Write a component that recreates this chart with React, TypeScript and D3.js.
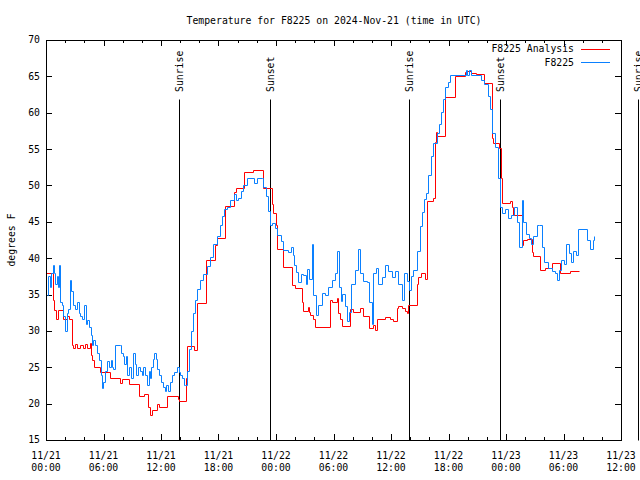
import React from "react";
import * as d3 from "d3";

const TITLE = "Temperature for F8225 on 2024-Nov-21 (time in UTC)";
const Y_LABEL = "degrees F";
const START_UTC = Date.UTC(2024, 10, 21, 0, 0);
const END_HOURS = 60;
const Y_TICKS = [15, 20, 25, 30, 35, 40, 45, 50, 55, 60, 65, 70];

// hours since 2024-11-21 00:00 UTC
const obsHours = [0.07,0.2,0.42,0.56,0.7,0.83,0.97,1.11,1.25,1.36,1.46,1.67,1.8,1.95,2.16,2.33,2.5,2.64,2.78,3.0,3.2,3.4,3.55,3.76,3.97,4.14,4.31,4.5,4.66,4.77,4.94,5.15,5.36,5.53,5.7,5.84,5.98,6.16,6.33,6.54,6.75,6.89,7.03,7.23,7.72,7.86,8.0,8.14,8.35,8.49,8.7,8.83,9.04,9.25,9.39,9.6,9.8,10.0,10.16,10.37,10.5,10.7,10.85,11.0,11.13,11.27,11.48,11.62,11.83,12.03,12.17,12.38,12.52,12.73,12.94,13.15,13.36,13.63,13.84,13.98,14.19,14.4,14.54,14.68,14.89,15.1,15.3,15.58,15.8,16.07,16.42,16.77,17.11,17.46,17.81,18.16,18.33,18.58,18.85,19.2,19.62,19.83,20.07,20.31,20.59,20.94,21.7,21.98,22.5,22.68,22.92,23.13,23.37,23.58,23.86,24.14,24.49,24.77,25.29,25.53,25.74,25.88,26.09,26.34,26.58,26.86,27.09,27.27,27.48,27.72,27.9,28.14,28.42,28.76,29.1,29.46,29.81,30.16,30.4,30.58,30.75,30.92,31.16,31.37,31.58,31.86,32.21,32.56,32.77,33.11,33.46,33.74,33.98,34.16,34.43,34.68,35.03,35.38,35.72,36.07,36.42,36.77,37.11,37.39,37.64,37.88,38.05,38.33,38.68,39.02,39.27,39.44,39.62,39.9,40.17,40.42,40.77,41.01,41.18,41.39,41.64,41.91,42.16,43.79,43.97,44.14,44.31,45.36,45.71,46.12,46.37,46.57,46.85,47.13,47.37,47.58,47.93,48.24,48.56,48.84,49.12,49.39,49.64,49.81,50.09,50.37,50.58,50.85,51.2,51.48,51.72,52.0,52.42,52.77,53.12,53.36,53.57,53.78,54.02,54.26,54.54,54.75,55.02,55.3,55.55,56.49,56.77,57.12,57.22];
const obsTemps = [35,37.5,36,38,39,38,36.5,37.5,36,39,34,33.5,32,30,32.5,33,37,35.5,33.5,33,34,32.5,32,31.6,33.5,31,31.5,30.5,29.5,28,28.8,28,27,26,24,22.2,23,24.5,25.8,25,26,25,24.8,28,28,27,26.5,25.5,26.5,24,25,23.5,27,25.5,24,25,24.5,24,25,24,22.5,24.5,23.5,25,26.2,27,26.2,24.8,24,23,22.3,21.7,22.5,21.8,23,24,24.4,25,24.3,24,23.5,22.5,22.5,24.5,27.5,30,32.5,34.3,35.8,37,37.8,38.9,40.2,42,43,44.5,45.8,46.8,47,48,48.8,48,48.3,49.2,50.1,51,50.3,51,51,49.8,48.5,46.5,44.5,44.8,44.2,43.2,42.3,41.1,40.9,41.5,40.5,39.1,38.1,36.7,37.8,37.7,36.5,38.5,37.2,42,35,32.2,33.5,35.2,35,36.1,37,38,41,36,34.1,35.1,33.4,31.3,32.6,36.5,38.4,41.3,38,36.8,36.7,34,31,38,38.6,36.5,37.4,39,38.2,37.4,38.3,36.4,34.2,38,36.8,35.6,37.5,38.4,41,44.4,46.4,48.2,48.9,51.4,54,55.9,57.2,58.5,60.1,61.9,63.6,64.2,65.2,65.9,65.2,65.9,65.2,64.5,64,62.3,60.5,57.2,55.3,51,47.1,46.2,46.8,45.5,46,47,45,41.5,48,45,43.3,42.8,42,43,44.5,44.5,41.5,39.5,38.6,38.3,38,37,38.4,39.7,39.2,42,40.7,39.5,41,40.4,44,42.5,41.3,42.5,43];

const anaHours = [0,0.7,0.83,1.04,1.29,1.74,2.16,2.37,2.68,2.85,3.03,3.27,3.55,3.83,4.07,4.31,4.59,4.7,4.83,5.0,5.63,6.68,7.72,7.9,8.7,9.74,10.23,10.68,10.85,11.1,11.62,11.79,12.66,13.74,13.91,14.61,14.75,15.44,15.72,16.66,17.64,17.81,18.68,19.65,19.79,20.66,21.64,22.68,23.55,23.72,24.0,24.14,24.7,25.63,25.98,26.68,26.85,27.37,27.48,27.55,27.83,28.07,29.63,29.81,30.33,30.5,30.68,30.85,31.72,32.07,32.77,33.04,33.74,34.16,34.33,34.5,35.37,35.9,36.18,36.66,36.77,37.11,37.47,37.64,37.81,38.68,38.85,39.1,39.55,39.72,40.35,40.59,40.7,40.84,41.6,42.71,43.72,43.9,44.31,44.87,45.7,46.54,46.68,47.27,47.5,47.62,48.42,48.59,48.77,49.64,49.81,50.16,50.68,50.85,51.55,52.07,52.77,53.64,54.69,55.66];
const anaTemps = [37.9,34.25,32.9,31.6,32.9,31.6,32.0,31.7,28.0,27.6,28.2,27.6,28.0,27.6,28.2,27.7,28.3,26.7,26.0,25.0,24.3,23.5,22.8,23.35,22.7,21.05,21.3,19.5,18.45,19.1,20.0,19.6,21.05,20.7,20.4,23.5,27.9,27.4,33.9,39.8,41.8,42.8,47.2,49.1,49.7,51.8,52.1,49.6,47.5,46.2,44.6,41.2,38.8,36.3,35.9,34.0,32.7,33.3,32.6,32.2,31.7,30.6,34.25,34.0,34.5,32.5,31.7,30.7,33.0,32.6,33.2,32.0,30.35,30.8,30.1,31.6,31.9,31.6,31.3,33.2,33.4,33.1,32.8,32.5,33.6,36.5,37.4,38.0,37.1,47.8,48.3,56.0,57.4,56.8,62.1,65.1,65.55,65.7,65.5,65.3,64.1,56.5,55.8,55.2,51.0,47.6,47.9,47.0,45.9,41.8,42.5,42.6,40.9,40.3,38.4,38.6,39.3,37.9,38.3,38.3];

const sunHours = [13.88, 23.37, 37.88, 47.37, 61.77];
const sunLabels = ["Sunrise", "Sunset", "Sunrise", "Sunset", "Sunrise"];
const SUN_LINE_TOP = 61.9;

const seriesNames = ["F8225 Analysis", "F8225"];
const seriesColors = ["#ff0000", "#0a80ff"];

const W = 640, H = 480;
const L = 46, R = 621, T = 40, B = 440;
const FONT = "'DejaVu Sans Mono', 'Liberation Mono', monospace";
const FS = 9.8;

const toDate = (h: number) => new Date(START_UTC + h * 3600e3);

export default function App() {
  const x = d3.scaleUtc().domain([toDate(0), toDate(END_HOURS)]).range([L, R]);
  const y = d3.scaleLinear().domain([15, 70]).range([B, T]);
  const px = (d: Date) => Math.round(x(d)) + 0.5;
  const py = (v: number) => Math.round(y(v)) + 0.5;

  const line = d3
    .line<[number, number]>()
    .x((d) => px(toDate(d[0])))
    .y((d) => py(d[1]))
    .curve(d3.curveStepAfter);

  const obs: [number, number][] = obsHours.map((h, i) => [h, obsTemps[i]]);
  const ana: [number, number][] = anaHours.map((h, i) => [h, anaTemps[i]]);

  const majorTicks = x.ticks(d3.utcHour.every(6)!);
  const minorTicks = x.ticks(d3.utcHour.every(2)!).filter((d) => d.getUTCHours() % 6 !== 0);
  const fmtDay = d3.utcFormat("%m/%d");
  const fmtTime = d3.utcFormat("%H:%M");

  const textStyle = { fontFamily: FONT, fontSize: FS, fill: "#000" } as const;

  return (
    <svg width={W} height={H} style={{ position: "absolute", left: 0, top: 0, background: "#fff" }}>
      <rect x={0} y={0} width={W} height={H} fill="#fff" />
      {/* title */}
      <text x={(L + R) / 2 + 0.5} y={24} textAnchor="middle" style={textStyle}>{TITLE}</text>
      {/* y label */}
      <text transform={`translate(15,${(T + B) / 2}) rotate(-90)`} textAnchor="middle" style={textStyle}>{Y_LABEL}</text>

      {/* y ticks */}
      {Y_TICKS.map((v) => (
        <g key={"y" + v}>
          <line x1={L} x2={L + 6} y1={py(v)} y2={py(v)} stroke="#000" />
          <line x1={R - 6} x2={R} y1={py(v)} y2={py(v)} stroke="#000" />
          <text x={40} y={y(v)} dy="0.35em" textAnchor="end" style={textStyle}>{v}</text>
        </g>
      ))}
      {/* x ticks */}
      {majorTicks.map((d) => (
        <g key={"xm" + d.getTime()}>
          <line x1={px(d)} x2={px(d)} y1={B} y2={B - 6} stroke="#000" />
          <line x1={px(d)} x2={px(d)} y1={T} y2={T + 6} stroke="#000" />
          <text x={x(d)} y={459} textAnchor="middle" style={textStyle}>{fmtDay(d)}</text>
          <text x={x(d)} y={471} textAnchor="middle" style={textStyle}>{fmtTime(d)}</text>
        </g>
      ))}
      {minorTicks.map((d) => (
        <g key={"xn" + d.getTime()}>
          <line x1={px(d)} x2={px(d)} y1={B} y2={B - 3} stroke="#000" />
          <line x1={px(d)} x2={px(d)} y1={T} y2={T + 3} stroke="#000" />
        </g>
      ))}

      {/* sun lines */}
      {sunHours.map((h, i) => (
        <g key={"s" + i}>
          <line x1={px(toDate(h))} x2={px(toDate(h))} y1={py(15)} y2={py(SUN_LINE_TOP)} stroke="#000" />
          <text transform={`translate(${x(toDate(h)) + 4},92) rotate(-90)`} textAnchor="start" style={textStyle}>{sunLabels[i]}</text>
        </g>
      ))}

      {/* series */}
      <path d={line(ana) || ""} fill="none" stroke={seriesColors[0]} strokeWidth={1} />
      <path d={line(obs) || ""} fill="none" stroke={seriesColors[1]} strokeWidth={1} />

      {/* frame */}
      <rect x={L + 0.5} y={T + 0.5} width={R - L} height={B - T} fill="none" stroke="#000" />

      {/* legend */}
      {seriesNames.map((n, i) => (
        <g key={"lg" + i}>
          <text x={574} y={49 + i * 13.5} dy="0.35em" textAnchor="end" style={textStyle}>{n}</text>
          <line x1={581} x2={610} y1={49.5 + i * 13} y2={49.5 + i * 13} stroke={seriesColors[i]} />
        </g>
      ))}
    </svg>
  );
}
